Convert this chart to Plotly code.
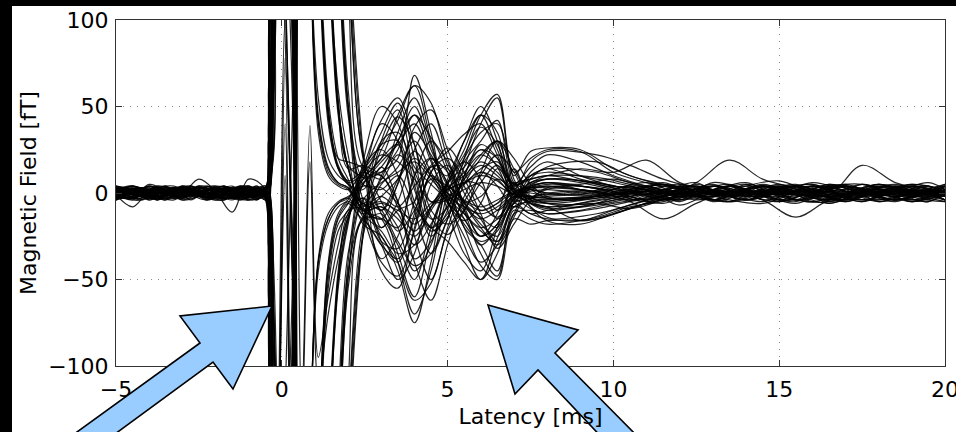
import plotly.graph_objects as go

# Sample times (ms). Two interleaved sampling grids are used so that the
# baseline and late segments of neighbouring sensors are offset in time.
latency_a = [-5.0, -4.5, -4.0, -3.5, -3.0, -2.5, -2.0, -1.5, -1.0, -0.5,
             -0.4, -0.25, 0.1, 0.35, 0.6, 0.85,
             1.1, 1.4, 1.7, 2.0, 2.45,
             3.0, 3.5, 4.0, 4.5, 5.0, 5.5, 6.0, 6.5, 7.0, 7.5, 8.0,
             9.0, 10.0, 11.0, 12.0, 13.0, 14.0, 15.0, 16.0, 17.0, 18.0, 19.0, 20.0]
latency_b = [-5.0, -4.25, -3.75, -3.25, -2.75, -2.25, -1.75, -1.25, -0.75, -0.5,
             -0.4, -0.25, 0.1, 0.35, 0.6, 0.85,
             1.1, 1.4, 1.7, 2.0, 2.45,
             3.0, 3.5, 4.0, 4.5, 5.0, 5.5, 6.0, 6.5, 7.0, 7.5, 8.0,
             9.5, 10.5, 11.5, 12.5, 13.5, 14.5, 15.5, 16.5, 17.5, 18.5, 19.5, 20.0]

# Magnetic field per sensor channel (fT):
# baseline | stimulus artifact | artifact decay | evoked response | late segment
ch01 = [3,-2,4,0,-3,2,4,-1,3,1, 10,80,400,180,-420,-380, -260,-150,-50,-15,8, 20,45,62,30,-4,-25,-40,-30,-5,12,18, 10,4,2,-7,1,6,-2,0,5,-1,4,0]
ch02 = [-1,3,-4,2,4,-2,0,3,-3,-1, -5,-70,-400,-160,420,380, 260,150,50,15,-10, -15,-40,-70,-45,0,20,35,40,8,-6,-10, -6,-2,1,6,-5,0,4,-6,1,0,-5,2]
ch03 = [0,4,1,-3,1,3,-4,2,0,3, 60,380,90,-40,-350,-150, -40,-15,-6,-3,12, 35,52,20,-15,-8,15,40,55,12,20,25, 24,12,6,2,-2,4,7,0,-4,1,5,2]
ch04 = [4,0,-2,3,-1,-4,2,0,4,-3, -40,-380,-320,-140,350,150, 40,12,5,2,-14, -30,-50,-35,5,16,-10,-35,-48,-10,-15,-18, -14,-8,-5,-1,4,-1,-6,1,0,-4,0,-1]
ch05 = [-3,2,0,-2,3,0,3,-3,2,0, 20,110,450,250,-480,-450, -380,-300,-220,-130,-25, 10,25,45,20,-10,-35,-45,-20,5,8,10, 7,3,0,-4,6,2,-1,-5,0,5,1,-1]
ch06 = [1,-3,3,4,0,2,-2,4,-1,2, -15,-95,-450,-260,480,450, 380,300,220,130,22, -5,-20,-45,-30,5,25,45,35,0,-5,-8, -4,0,5,1,-4,-6,0,4,5,-1,-5,0]
ch07 = [-4,0,-3,1,-2,3,0,-2,-3,2, 30,300,260,90,-400,-330, -160,-45,-15,-6,10, 40,30,-10,-35,-15,10,25,15,-3,5,8, 6,2,-1,4,-5,0,2,5,-2,-4,1,4]
ch08 = [3,1,-2,-4,2,-3,1,3,0,-1, -20,-300,-250,-80,400,330, 160,45,15,6,-8, -38,-25,10,30,12,-15,-25,-12,14,-4,-6, -3,1,6,-1,0,4,-4,-1,5,0,-3,-5]
ch09 = [0,-3,5,1,-4,0,4,2,-2,0, 200,500,460,300,-450,-420, -330,-240,-150,-50,5, 15,30,50,25,5,-20,-30,-45,-12,-10,-12, -10,-6,-3,0,4,-2,1,0,-5,3,0,1]
ch10 = [-2,1,-4,3,0,-2,3,-4,1,4, -220,-500,-450,-290,450,420, 330,240,150,50,-6, -10,-35,-60,-25,8,30,50,30,-5,10,14, 12,6,2,-1,-5,1,5,-2,0,1,6,2]
ch11 = [1,4,0,-2,3,1,-3,0,4,-2, 40,350,120,-60,-420,-380, -260,-150,-55,-18,15, 25,10,-25,-50,-20,5,20,30,5,15,22, 18,10,4,0,5,-2,0,6,1,-5,0,3]
ch12 = [-3,-1,3,0,1,-3,0,4,-2,1, -60,-340,-300,-170,400,330, 160,50,20,18,14, -20,-5,25,40,15,-5,-18,-25,-8,-12,-15, -12,-7,-2,1,-1,5,-1,-6,0,4,-4,-5]
ch13 = [4,2,-3,1,-2,0,2,-3,3,0, -10,50,300,60,-350,-150, -40,-15,-6,-3,-12, 5,15,30,12,-3,-12,-20,-15,-2,3,5, 4,1,-4,0,4,-1,-5,1,4,0,5,1]
ch14 = [-2,0,2,-3,4,-1,-4,3,0,-2, 5,-40,-300,-70,420,380, 240,140,60,22,-10, -8,-15,-25,-10,3,10,18,12,0,-3,-4, -2,1,5,-1,-5,4,0,-4,1,4,-1,0]
ch15 = [0,3,-2,4,-3,3,1,-2,-4,3, 30,140,430,260,-450,-420, -320,-220,-130,-40,18, 50,40,5,-25,-10,20,45,57,10,24,26, 25,14,7,3,1,-4,2,0,-1,5,1,2]
ch16 = [3,-4,0,-2,1,-3,3,0,2,-3, -25,-130,-440,-270,480,450, 400,320,240,150,25, -45,-55,-20,10,0,-20,-42,-50,-15,-18,-16, -15,-9,-3,-2,1,-1,-5,4,0,-4,-1,-2]
ch17 = [-3,0,4,-1,0,4,-2,1,3,0, 20,320,280,110,-400,-330, -170,-55,-22,-12,6, 12,20,68,35,-5,-15,-30,-20,-3,6,8, 7,3,-1,1,-4,5,0,-1,4,-5,0,1]
ch18 = [1,-2,-3,3,-4,2,0,-3,-1,3, -30,-320,-270,-100,350,150, 55,20,10,5,-18, -25,-45,-75,-40,5,15,25,20,2,-4,-6, -6,-2,4,0,-1,-5,1,4,-2,0,4,-1]
ch19 = [-4,2,3,0,3,-1,-3,2,4,-1, 0,60,390,220,-480,-450, -390,-310,-230,-140,-22, 30,35,15,5,-5,-30,-50,-35,-8,-5,-4, -3,0,4,-2,1,0,5,-1,-4,1,-5,0]
ch20 = [2,0,-4,1,-1,4,-3,3,0,1, 0,-60,-380,-210,450,420, 340,250,160,60,-4, -20,-10,-5,15,10,30,45,25,5,8,10, 9,5,1,-4,0,4,-1,5,0,-4,1,5]
ch21 = [-1,-8,1,2,0,8,1,-11,8,2, -50,-400,78,-300,420,380, 250,140,45,14,-6, 8,35,55,28,0,-10,-25,-18,0,4,6, 4,1,-4,4,0,-1,4,-5,1,0,4,-1]
ch22 = [1,0,-3,1,2,-2,1,3,-2,2, -40,-350,40,-280,400,330, 150,40,14,6,9, -12,-30,-50,-20,6,22,38,28,2,-6,-9, -7,-3,1,-1,4,-4,0,1,-5,4,0,-4]
ch23 = [0,1,-1,-3,1,-1,3,0,-2,0, -30,-300,10,-250,-150,18, -110,-70,-38,-14,5, 18,28,40,18,-2,-18,-28,-22,-4,2,4, 2,-1,1,5,-4,0,-1,4,1,-4,0,5]
ch24 = [-3,3,0,1,-1,0,-3,1,1,-1, 40,300,280,200,-120,39, -95,-60,-30,-10,-8, -5,-12,-30,-18,2,12,22,16,1,-2,-3, -1,4,-4,0,1,-1,4,0,-5,1,-1,0]
ch25 = [1,-1,0,3,-3,1,2,-1,0,3, 15,100,400,200,-450,-420, -300,-210,-120,-35,-4, 6,12,18,8,-2,-8,-12,-8,0,3,4, 2,0,-1,1,-4,1,0,-1,4,0,-4,1]
ch26 = [-1,1,-2,0,1,-3,0,3,-1,0, -70,-360,100,-60,350,150, 45,15,6,3,-9, -6,-10,-15,-6,2,6,10,7,-1,-2,-3, -2,1,0,-1,4,-1,1,0,-4,1,1,-1]
ch27 = [0,-4,3,-1,0,3,-1,0,1,1, 10,280,240,100,-480,-450, -370,-290,-200,-110,-15, -15,-20,10,20,6,-8,-15,-10,-2,-6,-8, -16,-12,-6,-2,0,1,-4,0,4,-1,0,-4]
ch28 = [3,1,0,-3,1,0,4,-1,-1,0, -10,-90,-300,-90,420,380, 270,160,55,16,10, 20,28,-5,-20,-8,8,16,10,2,18,24, 22,16,8,3,0,4,-1,1,-4,0,1,-1]
ch29 = [-1,0,-3,3,-1,1,0,1,-4,1, 130,440,400,230,-400,-330, -150,-40,-12,-5,-10, -2,8,20,10,0,-5,-10,-6,0,-8,-14, -16,-10,-4,0,-4,1,-1,4,0,-1,1,0]
ch30 = [1,3,1,-1,0,-1,3,-3,2,-1, -140,-440,-410,-240,450,420, 320,230,140,45,5, 3,-6,-18,-8,2,6,12,8,-1,6,10, 14,12,19,6,2,0,1,-1,4,0,-4,1]
ch31 = [0,0,-2,1,3,-3,-1,0,3,1, 50,390,360,190,-420,-380, -250,-140,-45,-12,-3, -10,5,35,22,4,-12,-22,-28,-6,-3,-2, 0,4,-1,6,19,8,3,-1,16,6,1,-4]
ch32 = [-3,1,3,-1,-3,0,1,-2,0,-3, -60,-390,-350,-180,480,450, 370,290,210,120,15, 10,-5,-38,-28,-6,18,30,42,6,2,0, -2,-5,-15,-6,1,-4,-14,-4,1,-4,0,-1]
ch33 = [3,-3,1,0,4,-1,0,3,-3,1, 0,75,320,140,-350,-150, -45,-18,-8,-4,11, 22,18,8,-5,-2,5,14,18,4,10,14, 8,4,2,-1,1,5,-4,4,-1,0,-5,2]
ch34 = [-1,3,-1,-3,0,3,-4,1,-3,0, 0,-75,-320,-130,400,330, 170,55,20,8,-12, -22,-35,-30,-8,4,-6,-14,-20,-4,-9,-12, -9,-5,-2,1,-1,0,4,-4,1,5,-1,-4]
ch35 = [1,-3,4,1,-1,-1,3,1,-1,3, 0,270,230,80,-450,-420, -340,-250,-160,-55,-16, -30,-38,-15,8,4,-4,-8,-4,1,3,3, 2,-1,1,-4,0,4,-1,1,-4,1,4,0]
ch36 = [-4,-1,0,3,1,0,-3,-1,1,-1, -5,-270,-230,-60,350,150, 35,10,4,2,13, 28,44,28,-5,-4,2,6,4,-1,-2,-1, 1,-4,0,4,-1,1,-4,0,1,-1,0,4]
ch37 = [2,4,-1,-2,3,-2,1,4,-2,2, 10,120,360,160,-480,-450, -400,-320,-240,-150,-25, 30,48,10,-20,-12,10,28,20,-2,4,6, 5,8,3,-2,1,-4,2,5,-1,0,2,-4]
ch38 = [-2,-4,2,3,-1,2,-2,-3,4,-2, -10,-120,-360,-160,480,450, 390,310,230,140,22, -28,-40,-12,15,14,-8,-25,-18,3,-6,-8, -6,-9,-4,1,-2,4,-4,-5,2,0,-2,4]
ch39 = [0,2,-3,-1,4,1,-2,2,-4,0, 250,300,200,60,-400,-330, -150,-42,-14,-6,-15, -12,-28,-42,-35,-15,8,22,30,14,-2,-6, -8,-3,2,-5,4,0,-2,4,-1,2,-5,1]
ch40 = [1,-1,4,-3,2,-3,4,-1,2,-2, -250,-300,-200,-60,420,380, 250,145,48,14,16, 12,30,45,32,18,-6,-20,-30,-14,4,8, 6,2,-4,5,-2,1,4,-5,0,-2,4,-1]
ch41 = [-2,2,1,4,-4,-2,1,3,-1,1, 160,450,320,90,-450,-420, -330,-235,-145,-48,-6, -25,-40,-62,-52,-22,-5,10,22,12,-8,-16, -18,-12,-6,-2,2,-4,0,2,-5,1,0,-2]
ch42 = [3,-1,-2,2,2,-4,-1,-4,3,-1, -160,-450,-320,-90,400,330, 155,44,14,5,2, 25,42,62,52,20,0,-15,-28,-12,8,15, 18,10,5,1,-2,4,0,-4,5,-1,1,4]
ch43 = [-1,4,0,-4,1,3,2,-2,-2,3, -30,150,290,120,-420,-380, -265,-155,-52,-16,14, 42,55,28,-10,-18,-10,12,30,20,5,-2, -4,2,6,-1,-4,2,4,-2,0,5,-1,-2]
ch44 = [2,-2,-1,3,0,-1,-3,4,1,-4, 30,-150,-290,-120,450,420, 335,245,155,52,-12, -40,-48,-22,12,20,8,-12,-32,-18,-4,3, 3,-2,-6,1,5,-2,-4,4,0,-5,2,1]
ch45 = [0,-3,2,2,-2,4,3,-1,-1,2, 60,380,130,-80,-350,-150, -38,-12,-5,-2,4, 2,10,-8,-20,-28,-40,-50,-26,-6,-12,-10, -6,-3,1,-2,4,-1,2,0,-4,2,1,-2]
ch46 = [-3,0,1,-2,3,-3,-4,2,3,-1, -60,-380,-120,70,420,380, 255,150,50,15,-7, -2,-8,4,16,24,34,40,22,4,10,12, 8,4,0,4,-2,2,-1,5,1,-4,0,4]
ch47 = [4,1,-4,0,2,1,-2,-3,0,4, -20,140,370,150,-480,-450, -375,-295,-215,-125,-18, 15,-5,-40,-62,-30,-2,12,4,-8,-3,2, 4,0,-5,2,1,-4,4,-1,-2,4,0,-1]
ch48 = [-2,-3,3,1,0,2,4,0,-3,-2, 20,-140,-370,-150,350,150, 42,14,6,3,-10, -15,6,38,48,25,4,-10,-6,6,2,-3, -3,1,5,-2,0,4,-4,1,2,-2,1,0]
ch49 = [1,2,-1,-4,4,0,-1,-1,2,3, -5,65,260,50,-400,-330, -165,-50,-18,-10,8, 10,-8,-22,-8,6,18,8,-15,-6,3,6, 2,-1,4,-2,0,2,-5,1,4,-1,-2,0]
ch50 = [-4,1,2,-1,-2,-2,2,1,-4,0, 5,-65,-260,-50,480,450, 385,305,225,135,20, -10,8,24,10,-6,-16,-6,14,5,-3,-5, -2,2,-4,1,0,-2,4,-1,-2,2,1,0]
ch51 = [2,-1,0,2,-1,0,2,-2,4,-3, 90,280,230,110,-450,-420, -325,-235,-140,-45,-14, -8,-22,-10,12,26,12,-6,-14,-3,2,0, -1,4,-2,2,1,-4,0,2,-1,4,-2,-1]
ch52 = [-1,1,-3,-2,4,-1,1,3,-4,2, -90,-280,-230,-110,400,330, 160,48,16,7,12, 8,22,12,-14,-24,-10,6,16,3,-2,0, 1,-4,2,-2,-1,4,0,-2,1,-4,2,1]
ch53 = [3,2,-4,0,-3,4,0,-4,2,1, 0,200,150,30,-420,-380, -255,-145,-48,-14,-3, -28,-32,-5,20,12,-5,-2,8,2,0,-1, 0,2,-1,-4,2,-2,1,4,-2,0,4,-2]
ch54 = [-3,-2,4,2,1,-4,3,2,-1,-4, 0,-200,-150,-30,450,420, 330,240,150,50,9, 28,30,2,-22,-14,6,4,-10,-2,1,2, -1,-2,2,4,-2,1,-1,-4,2,1,-4,2]

# Sensors sampled on each grid
channels_a = [ch01, ch03, ch05, ch07, ch09, ch11, ch13, ch15, ch17, ch19, ch21, ch23, ch25, ch27,
              ch29, ch30, ch33, ch35, ch37, ch39, ch41, ch43, ch45, ch47, ch49, ch51, ch53]
channels_b = [ch02, ch04, ch06, ch08, ch10, ch12, ch14, ch16, ch18, ch20, ch22, ch24, ch26, ch28,
              ch31, ch32, ch34, ch36, ch38, ch40, ch42, ch44, ch46, ch48, ch50, ch52, ch54]

x_ticks = [-5, 0, 5, 10, 15, 20]
y_ticks = [-100, -50, 0, 50, 100]

series = [(latency_a, ch) for ch in channels_a] + [(latency_b, ch) for ch in channels_b]
for i, (t, ch) in enumerate(series):
    if len(ch) != len(t):
        raise ValueError(f"series {i + 1} has {len(ch)} samples, expected {len(t)}")

# Page geometry (px)
W, H = 956, 432
ML, MR, MT, MB = 116, 11, 20, 66
PW, PH = W - ML - MR, H - MT - MB

# Outlines of the two call-out arrows (px, page coordinates)
arrow_artifact = [(272, 306), (180, 316), (200, 343), (59, 445), (100, 445), (213, 362), (233, 389)]
arrow_response = [(488, 305), (578, 330), (555, 353), (646, 445), (609, 445), (538, 370), (515, 394)]


def to_paper(px, py):
    return (px - ML) / PW, (H - MB - py) / PH


def arrow_path(points):
    parts = []
    for i, (px, py) in enumerate(points):
        xp, yp = to_paper(px, py)
        parts.append(("M" if i == 0 else "L") + f"{xp:.5f},{yp:.5f}")
    return " ".join(parts) + " Z"


fig = go.Figure()
for t, ch in series:
    fig.add_trace(go.Scatter(
        x=t, y=ch, mode="lines",
        line=dict(color="rgba(0,0,0,0.85)", width=1.2, shape="spline", smoothing=1.0),
        hoverinfo="skip", showlegend=False,
    ))

FONT = "DejaVu Sans, Liberation Sans, Arial, sans-serif"

axis_common = dict(
    showline=True, linecolor="#333333", linewidth=1, mirror="ticks",
    ticks="inside", ticklen=6, tickcolor="#333333", tickwidth=1,
    showgrid=True, gridcolor="#8c8c8c", gridwidth=1, griddash="1px,6px",
    zeroline=False, automargin=False, ticklabeloverflow="allow",
    tickfont=dict(family=FONT, size=22, color="black"),
)

fig.update_xaxes(range=[-5, 20], tickvals=x_ticks, ticklabelstandoff=4,
                 title=dict(text="Latency [ms]", font=dict(family=FONT, size=22, color="black"), standoff=7),
                 **axis_common)
fig.update_yaxes(range=[-100, 100], tickvals=y_ticks, ticklabelstandoff=2,
                 title=dict(text="Magnetic Field [fT]", font=dict(family=FONT, size=22, color="black"), standoff=5),
                 **axis_common)

shapes = [
    # dark frame strips along the left and top edges of the page
    dict(type="rect", xref="paper", yref="paper",
         x0=to_paper(-5, 0)[0], x1=to_paper(12, 0)[0],
         y0=to_paper(0, H + 5)[1], y1=to_paper(0, -5)[1],
         fillcolor="black", line=dict(width=0), layer="above"),
    dict(type="rect", xref="paper", yref="paper",
         x0=to_paper(-5, 0)[0], x1=to_paper(W + 5, 0)[0],
         y0=to_paper(0, 6)[1], y1=to_paper(0, -5)[1],
         fillcolor="black", line=dict(width=0), layer="above"),
]
for outline in (arrow_artifact, arrow_response):
    shapes.append(dict(type="path", xref="paper", yref="paper", path=arrow_path(outline),
                       fillcolor="#99ccff", line=dict(color="black", width=1.6), layer="above"))

fig.update_layout(
    width=W, height=H,
    margin=dict(l=ML, r=MR, t=MT, b=MB),
    paper_bgcolor="white", plot_bgcolor="white",
    font=dict(family=FONT, size=22, color="black"),
    showlegend=False,
    shapes=shapes,
)

fig.write_html("out.html")
